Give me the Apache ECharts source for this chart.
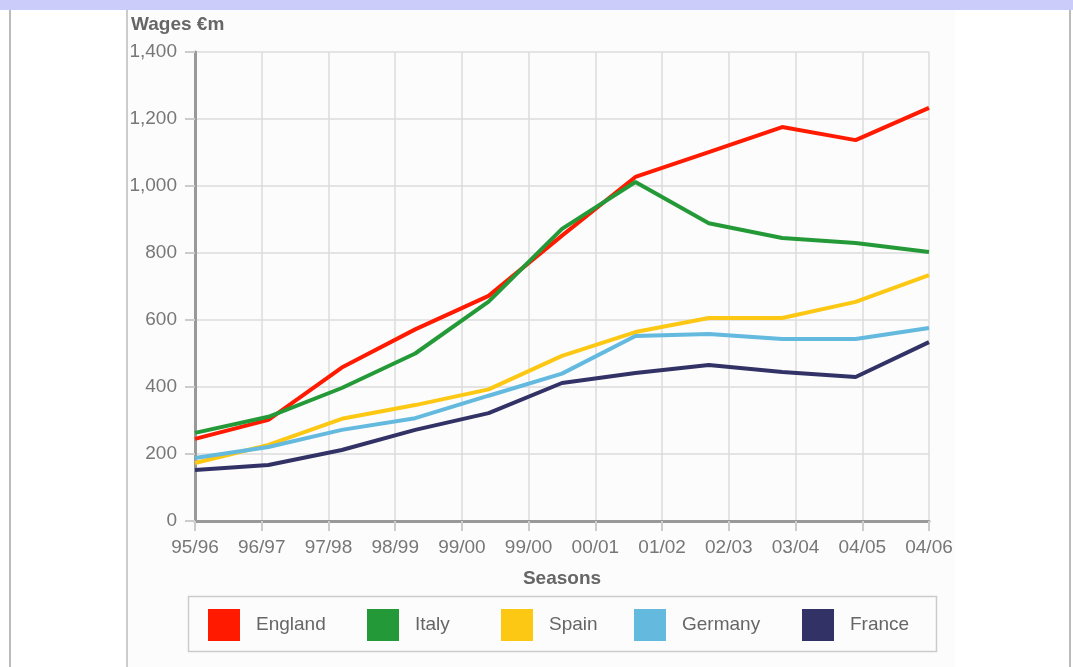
<!DOCTYPE html>
<html>
<head>
<meta charset="utf-8">
<style>
  html, body { margin: 0; padding: 0; background: #fff; }
  #chart { width: 1073px; height: 667px; }
</style>
<script src="https://cdn.jsdelivr.net/npm/echarts@6/dist/echarts.min.js"></script>
</head>
<body>
<div id="chart"></div>
<script>
  // axis labels (12 of them, the data has 11 points)
  const seasons = ['95/96', '96/97', '97/98', '98/99', '99/00', '99/00', '00/01', '01/02', '02/03', '03/04', '04/05', '04/06'];

  // wages in €m
  const england = [245, 302, 458, 572, 672, 852, 1027, 1101, 1176, 1137, 1233];
  const italy   = [263, 311, 397, 500, 655, 872, 1012, 889, 845, 830, 803];
  const spain   = [173, 227, 305, 346, 393, 493, 564, 606, 606, 654, 734];
  const germany = [188, 221, 272, 307, 374, 440, 552, 558, 543, 543, 576];
  const france  = [152, 167, 212, 272, 322, 412, 442, 466, 445, 430, 534];

  const countries = ['England', 'Italy', 'Spain', 'Germany', 'France'];
  const colors = ['#ff1a00', '#239a37', '#fcc813', '#63b9de', '#323266'];
  const values = [england, italy, spain, germany, france];

  const font = 'Liberation Sans, Arial, Helvetica, sans-serif';
  // one legend per country, placed where the original has its swatches
  const legendLeft = [208, 367, 501, 634, 802];

  const chart = echarts.init(document.getElementById('chart'));

  chart.setOption({
    backgroundColor: '#fff',
    animation: false,
    color: colors,
    title: {
      text: 'Wages €m',
      left: 126,
      top: 10,
      textStyle: { fontFamily: font, fontSize: 19, fontWeight: 'bold', color: '#666' }
    },
    graphic: [
      // page decorations round the chart
      { type: 'rect', z: -10, shape: { x: 128, y: 10, width: 827, height: 657 }, style: { fill: '#fcfcfc' } },
      { type: 'rect', z: -10, shape: { x: 0, y: 0, width: 1073, height: 10 }, style: { fill: '#ccccfa' } },
      { type: 'line', z: -10, shape: { x1: 10, y1: 10, x2: 10, y2: 667 }, style: { stroke: '#bbb', lineWidth: 2 } },
      { type: 'line', z: -10, shape: { x1: 127, y1: 10, x2: 127, y2: 667 }, style: { stroke: '#ccc', lineWidth: 2 } },
      { type: 'line', z: -10, shape: { x1: 1070, y1: 10, x2: 1070, y2: 667 }, style: { stroke: '#bbb', lineWidth: 2 } },
      // legend frame
      { type: 'rect', shape: { x: 188.5, y: 596.5, width: 748, height: 55 }, style: { fill: 'none', stroke: '#ccc', lineWidth: 1.5 } }
    ],
    legend: countries.map((name, k) => ({
      data: [name],
      left: legendLeft[k],
      top: 597,
      icon: 'rect',
      itemWidth: 32,
      itemHeight: 32,
      padding: [12, 0, 12, 0],
      textStyle: { fontFamily: font, fontSize: 19, color: '#666', padding: [0, 0, 0, 11] }
    })),
    grid: {
      left: 195,
      right: 144,
      top: 52,
      bottom: 146,
      containLabel: false,
      outerBoundsMode: 'none'
    },
    xAxis: [{
      type: 'category',
      data: seasons,
      boundaryGap: false,
      name: 'Seasons',
      nameLocation: 'middle',
      nameGap: 48,
      nameTextStyle: { fontFamily: font, fontSize: 19, fontWeight: 'bold', color: '#666' },
      axisLine: { lineStyle: { color: '#999', width: 3 } },
      axisTick: { length: 10, interval: 0, lineStyle: { color: '#ccc', width: 2 } },
      axisLabel: { interval: 0, margin: 17, fontFamily: font, fontSize: 19, color: '#777' },
      splitLine: { show: true, interval: 0, lineStyle: { color: '#ddd', width: 1.5 } }
    }, {
      // hidden axis that carries the 11 data points
      type: 'category',
      data: england.map((v, i) => i),
      boundaryGap: false,
      show: false
    }],
    yAxis: {
      type: 'value',
      min: 0,
      max: 1400,
      interval: 200,
      axisLine: { show: true, lineStyle: { color: '#999', width: 3 } },
      axisTick: { show: true, length: 10, lineStyle: { color: '#ccc', width: 2 } },
      axisLabel: {
        margin: 18,
        fontFamily: font,
        fontSize: 19,
        color: '#777',
        formatter: v => v.toLocaleString('en-US')
      },
      splitLine: { lineStyle: { color: '#ddd', width: 1.5 } }
    },
    series: countries.map((name, k) => ({
      name: name,
      type: 'line',
      xAxisIndex: 1,
      data: values[k],
      symbol: 'none',
      lineStyle: { width: 4, color: colors[k] },
      itemStyle: { color: colors[k] }
    }))
  });
</script>
</body>
</html>
